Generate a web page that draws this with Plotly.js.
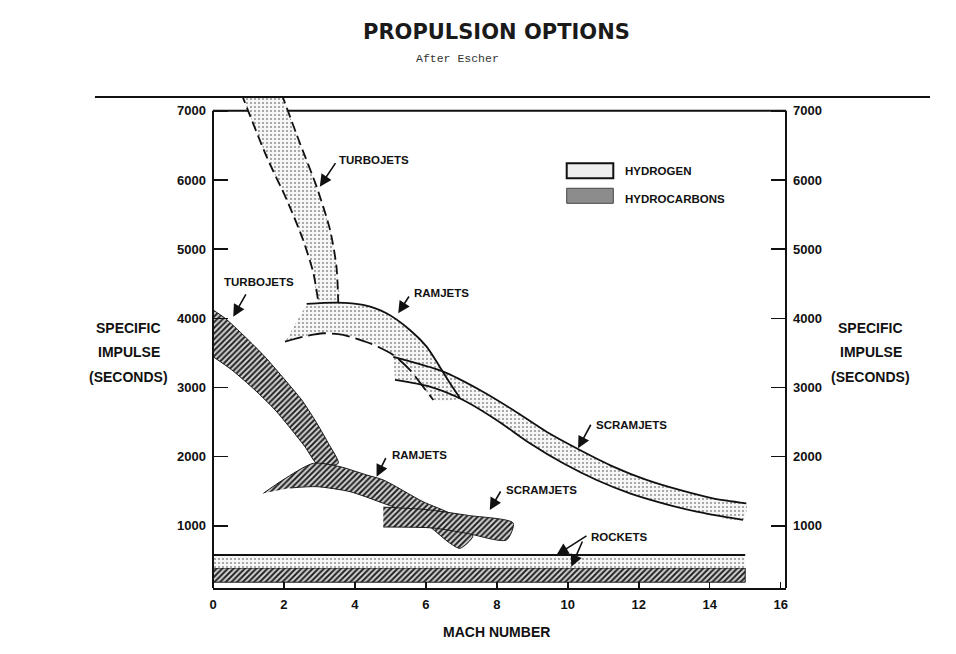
<!DOCTYPE html>
<html><head><meta charset="utf-8">
<script src="https://cdn.plot.ly/plotly-3.0.1.min.js"></script>
<style>html,body{margin:0;padding:0;background:#fff}#chart{width:956px;height:654px}</style>
</head><body><div id="chart"></div>
<script>
// ---- DATA (Mach number vs specific impulse, seconds) ----
// Hydrogen turbojets (dashed band)
const hTurboLeftMach  = [0.80, 1.51, 2.08, 2.54, 2.83, 2.97];
const hTurboLeftIsp   = [7250, 6338, 5712, 5133, 4652, 4230];
const hTurboRightMach = [1.93, 2.45, 2.92, 3.30, 3.48, 3.53];
const hTurboRightIsp  = [7250, 6531, 5904, 5278, 4747, 4230];
// Hydrogen ramjets
const hRamUpperMach = [2.64, 3.48, 4.23, 4.89, 5.55, 6.02, 6.39, 6.68, 6.96];
const hRamUpperIsp  = [4208, 4227, 4193, 4073, 3832, 3591, 3301, 3061, 2849];
const hRamLowerMach = [2.03, 2.54, 3.11, 3.67, 4.42, 5.08, 5.55, 5.92, 6.21];
const hRamLowerIsp  = [3663, 3735, 3784, 3760, 3640, 3470, 3254, 3012, 2820];
// Hydrogen scramjets
const hScramUpperMach = [5.08, 6.49, 7.52, 8.46, 9.40, 10.34, 11.28, 12.22, 13.15, 14.09, 15.03];
const hScramUpperIsp  = [3441, 3229, 2964, 2675, 2361, 2097, 1856, 1663, 1518, 1398, 1326];
const hScramLowerMach = [5.13, 6.11, 7.05, 7.99, 8.93, 9.87, 10.81, 11.75, 12.68, 13.63, 14.94];
const hScramLowerIsp  = [3109, 3012, 2820, 2531, 2194, 1904, 1663, 1470, 1326, 1205, 1085];
// Hydrocarbon turbojets
const hcTurboUpperMach = [0, 0.34, 0.90, 1.46, 2.03, 2.50, 2.87, 3.25, 3.53];
const hcTurboUpperIsp  = [4121, 4001, 3735, 3446, 3109, 2820, 2531, 2194, 1904];
const hcTurboLowerMach = [0, 0.53, 1.18, 1.75, 2.22, 2.59, 2.97];
const hcTurboLowerIsp  = [3446, 3254, 2964, 2675, 2386, 2145, 1880];
// Hydrocarbon ramjets
const hcRamUpperMach = [1.42, 1.97, 2.83, 3.58, 4.33, 4.80, 5.92, 6.68, 7.24, 7.32];
const hcRamUpperIsp  = [1470, 1663, 1904, 1855, 1735, 1663, 1349, 1181, 988, 843];
const hcRamLowerMach = [1.42, 2.17, 2.92, 3.86, 4.80, 5.55, 6.11, 6.68, 6.96];
const hcRamLowerIsp  = [1470, 1547, 1566, 1494, 1326, 1181, 988, 748, 675];
// Hydrocarbon scramjets
const hcScramUpperMach = [4.80, 6.00, 7.20, 8.46];
const hcScramUpperIsp  = [1270, 1235, 1150, 1040];
const hcScramLowerMach = [4.80, 6.20, 7.15, 8.27];
const hcScramLowerIsp  = [983, 969, 892, 795];
// Rockets
const rocketMach = [0, 15];
const hRocketUpper  = [578, 578];
const hRocketLower  = [390, 390];
const hcRocketUpper = [390, 390];
const hcRocketLower = [185, 185];
// Axis ticks
const machTicks = [0, 2, 4, 6, 8, 10, 12, 14, 16];
const ispTicks = [1000, 2000, 3000, 4000, 5000, 6000, 7000];
const legendLabels = ['HYDROGEN', 'HYDROCARBONS'];

// ---- STYLE ----
const SANS = '"Liberation Sans", Arial, sans-serif';
const hPattern  = {shape: '.', bgcolor: '#f6f6f6', fgcolor: '#8a8a8a', size: 4, solidity: 0.18};
const hcPattern = {shape: '/', bgcolor: '#d4d4d4', fgcolor: '#222', size: 4, solidity: 0.5};
const yRange = [101, 7200];

function band(xu, yu, xl, yl, pattern, lw) {
  return {
    x: xu.concat(xl.slice().reverse()),
    y: yu.concat(yl.slice().reverse()),
    mode: 'lines', fill: 'toself', fillpattern: pattern,
    line: {color: '#1a1a1a', width: lw, shape: 'spline', smoothing: 0.7},
    showlegend: false, hoverinfo: 'skip'
  };
}
function edge(x, y, dash, w) {
  return {x: x, y: y, mode: 'lines', showlegend: false, hoverinfo: 'skip',
          line: {color: '#111', width: w || 1.8, dash: dash || 'solid', shape: 'spline', smoothing: 0.7}};
}
function straight(x, y) {
  return {x: x, y: y, mode: 'lines', showlegend: false, hoverinfo: 'skip',
          line: {color: '#111', width: 1.8}};
}

const traces = [
  band(hcTurboUpperMach, hcTurboUpperIsp, hcTurboLowerMach, hcTurboLowerIsp, hcPattern, 1),
  band(hcRamUpperMach, hcRamUpperIsp, hcRamLowerMach.slice(1), hcRamLowerIsp.slice(1), hcPattern, 1),
  band(hcScramUpperMach, hcScramUpperIsp, hcScramLowerMach, hcScramLowerIsp, hcPattern, 1),
  Object.assign(band(rocketMach, hcRocketUpper, rocketMach, hcRocketLower, hcPattern, 1), {line: {color: '#1a1a1a', width: 1}}),
  Object.assign(band(rocketMach, hRocketUpper, rocketMach, hRocketLower, hPattern, 0), {line: {width: 0}}),
  band(hTurboLeftMach, hTurboLeftIsp, hTurboRightMach, hTurboRightIsp, hPattern, 0),
  band(hRamUpperMach, hRamUpperIsp, hRamLowerMach, hRamLowerIsp, hPattern, 0),
  band(hScramUpperMach, hScramUpperIsp, hScramLowerMach, hScramLowerIsp, hPattern, 0),
  edge(hTurboLeftMach, hTurboLeftIsp, '10px,5px'),
  edge(hTurboRightMach, hTurboRightIsp, '10px,5px'),
  edge(hRamUpperMach, hRamUpperIsp),
  edge(hRamLowerMach, hRamLowerIsp, '18px,6px'),
  edge(hScramUpperMach, hScramUpperIsp),
  edge(hScramLowerMach, hScramLowerIsp),
  straight(rocketMach, hRocketUpper),
  {x: rocketMach, y: hcRocketLower, yaxis: 'y2', mode: 'lines', line: {width: 0}, showlegend: false, hoverinfo: 'skip'}
];

const tickFont = {family: SANS, size: 13, color: '#111', weight: 'bold'};
const labFont = {family: SANS, size: 11.5, color: '#111', weight: 'bold'};
const axFont = {family: SANS, size: 14, color: '#111', weight: 'bold'};

function ptxt(text, x, y, font, xanchor) {
  return {text: text, x: x, y: y, xref: 'paper', yref: 'paper', xanchor: xanchor || 'center', yanchor: 'middle',
          showarrow: false, font: font};
}
function label(text, x, y) {
  return {text: text, x: x, y: y, xref: 'x', yref: 'y', xanchor: 'center', yanchor: 'middle', showarrow: false, font: labFont};
}
function arrow(x, y, ax, ay) {
  return {text: '', x: x, y: y, ax: ax, ay: ay, xref: 'x', yref: 'y', axref: 'x', ayref: 'y',
          showarrow: true, arrowhead: 2, arrowsize: 1.5, arrowwidth: 1.6, arrowcolor: '#111', standoff: 0};
}

const annotations = [
  ptxt('PROPULSION OPTIONS', 0.494, 1.1324, {family: '"DejaVu Sans", sans-serif', size: 21, color: '#1a1a1a', weight: 'bold'}),
  ptxt('After Escher', 0.426, 1.0774, {family: '"Liberation Mono", "DejaVu Sans Mono", monospace', size: 11.5, color: '#333'}),
  ptxt('SPECIFIC', -0.1466, 0.5289, axFont), ptxt('IMPULSE', -0.1466, 0.4813, axFont), ptxt('(SECONDS)', -0.1466, 0.4303, axFont),
  ptxt('SPECIFIC', 1.148, 0.5289, axFont), ptxt('IMPULSE', 1.148, 0.4813, axFont), ptxt('(SECONDS)', 1.148, 0.4303, axFont),
  ptxt('MACH NUMBER', 0.4956, -0.0896, axFont),
  label('TURBOJETS', 4.535, 6290), arrow(3.01, 5904, 3.48, 6266),
  label('TURBOJETS', 1.296, 4526), arrow(0.57, 4024, 0.95, 4367),
  label('RAMJETS', 6.45, 4367), arrow(5.22, 4073, 5.55, 4338),
  label('RAMJETS', 5.83, 2024), arrow(4.61, 1711, 4.89, 2000),
  label('SCRAMJETS', 9.27, 1518), arrow(7.80, 1229, 8.13, 1518),
  label('SCRAMJETS', 11.80, 2458), arrow(10.29, 2121, 10.67, 2483),
  label('ROCKETS', 11.46, 839), arrow(9.68, 578, 10.57, 868), arrow(10.10, 409, 10.43, 795),
  ptxt(legendLabels[0], 0.7161, 0.8499, labFont, 'left'),
  ptxt(legendLabels[1], 0.7161, 0.7916, labFont, 'left')
];

const shapes = [
  {type: 'line', xref: 'paper', yref: 'y', x0: 0, x1: 1, y0: 7000, y1: 7000, layer: 'below', line: {color: '#111', width: 2}},
  {type: 'line', xref: 'paper', yref: 'y', x0: 0, x1: 0, y0: yRange[0], y1: 7000, line: {color: '#111', width: 2}},
  {type: 'line', xref: 'paper', yref: 'y', x0: 1, x1: 1, y0: yRange[0], y1: 7000, line: {color: '#111', width: 2}},
  {type: 'line', xref: 'paper', yref: 'paper', x0: -0.206, x1: 1.2513, y0: 1, y1: 1, line: {color: '#111', width: 2}},
  {type: 'rect', xref: 'paper', yref: 'paper', x0: 0.6173, x1: 0.6986, y0: 0.8344, y1: 0.8650,
   fillcolor: '#eeeeee', line: {color: '#111', width: 2}},
  {type: 'rect', xref: 'paper', yref: 'paper', x0: 0.6173, x1: 0.6986, y0: 0.7835, y1: 0.8141,
   fillcolor: '#8c8c8c', line: {color: '#444', width: 1}}
];

const layout = {
  width: 956, height: 654,
  margin: {l: 213, r: 170, t: 97, b: 66, pad: 0},
  paper_bgcolor: '#fff', plot_bgcolor: '#fff',
  showlegend: false, hovermode: false,
  xaxis: {range: [0, 16.15], tickvals: machTicks, ticktext: machTicks.map(String), ticks: 'inside', ticklen: 6,
          tickwidth: 1.5, tickcolor: '#111', showline: true, linewidth: 2, linecolor: '#111',
          showgrid: false, zeroline: false, tickfont: tickFont, ticklabelstandoff: 3},
  yaxis: {range: yRange, tickvals: ispTicks, ticktext: ispTicks.map(String), ticks: 'inside', ticklen: 15,
          tickwidth: 1.5, tickcolor: '#111', showline: false, showgrid: false, zeroline: false,
          tickfont: tickFont, ticklabelstandoff: 6},
  yaxis2: {range: yRange, overlaying: 'y', side: 'right', tickvals: ispTicks, ticktext: ispTicks.map(String),
           ticks: 'inside', ticklen: 15, tickwidth: 1.5, tickcolor: '#111', showline: false, showgrid: false,
           zeroline: false, tickfont: tickFont, ticklabelstandoff: 6},
  annotations: annotations,
  shapes: shapes
};

Plotly.newPlot('chart', traces, layout, {staticPlot: true, displayModeBar: false});
</script></body></html>
